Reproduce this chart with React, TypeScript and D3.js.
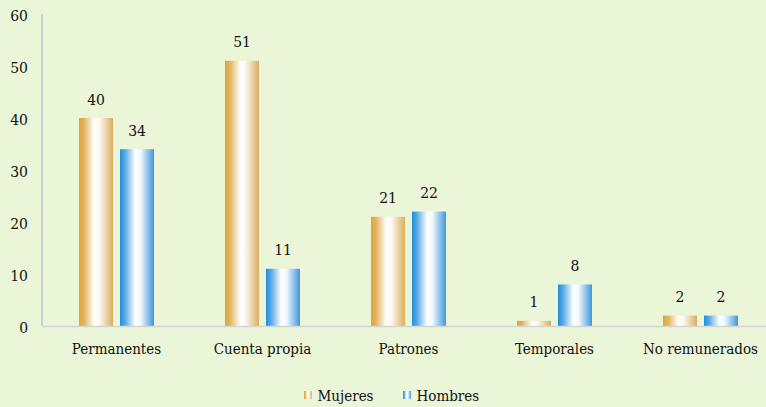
import React from "react";
import * as d3 from "d3";

const categories = ["Permanentes", "Cuenta propia", "Patrones", "Temporales", "No remunerados"];
const mujeres = [40, 51, 21, 1, 2];
const hombres = [34, 11, 22, 8, 2];
const yTicks = [0, 10, 20, 30, 40, 50, 60];
const seriesNames = ["Mujeres", "Hombres"];

const W = 766;
const H = 407;
const FONT = "'DejaVu Serif Condensed', 'DejaVu Serif'";

export default function App() {
  const y = d3.scaleLinear().domain([0, 60]).range([326, 14]);
  const x = d3.scaleBand().domain(categories).range([43.5, 773.5]).paddingInner(0).paddingOuter(0);
  const barW = 34;
  const gap = 7;
  const series = [
    { name: seriesNames[0], values: mujeres, grad: "gMuj" },
    { name: seriesNames[1], values: hombres, grad: "gHom" },
  ];
  const txt = { fontFamily: FONT, fontSize: 15, fontStretch: "condensed" as const };
  const num = { fontFamily: FONT, fontSize: 15.5, fontStretch: "condensed" as const };
  return (
    <svg width={W} height={H} style={{ position: "absolute", left: 0, top: 0, display: "block" }}>
      <defs>
        <linearGradient id="gMuj" x1="0" x2="1" y1="0" y2="0">
          <stop offset="0" stopColor="#DDA734" />
          <stop offset="0.15" stopColor="#E2B460" />
          <stop offset="0.45" stopColor="#FFFFFF" />
          <stop offset="0.6" stopColor="#FDF8F0" />
          <stop offset="1" stopColor="#D9AE60" />
        </linearGradient>
        <linearGradient id="gHom" x1="0" x2="1" y1="0" y2="0">
          <stop offset="0" stopColor="#1E8FDB" />
          <stop offset="0.15" stopColor="#5AAAE4" />
          <stop offset="0.45" stopColor="#FFFFFF" />
          <stop offset="0.6" stopColor="#F4F9FD" />
          <stop offset="1" stopColor="#3D97DE" />
        </linearGradient>
      </defs>
      <rect x={0} y={0} width={W} height={H} fill="#EBF5D8" />
      <line x1={42} x2={42} y1={y(60)} y2={y(0)} stroke="#B9BDC6" strokeWidth={1.3} />
      {yTicks.map((t) => (
        <text key={t} x={28} y={y(t) + 7} textAnchor="end" style={num} fill="#111">
          {t}
        </text>
      ))}
      {categories.map((c, i) => {
        const cx = (x(c) as number) + x.bandwidth() / 2;
        return (
          <g key={c}>
            {series.map((s, j) => {
              const bx = j === 0 ? cx - gap / 2 - barW : cx + gap / 2;
              const v = s.values[i];
              return (
                <g key={s.name}>
                  <rect x={bx} y={y(v)} width={barW} height={y(0) - y(v)} fill={`url(#${s.grad})`} />
                  <text x={bx + barW / 2} y={y(v) - 13.5} textAnchor="middle" style={num} fill="#111">
                    {v}
                  </text>
                </g>
              );
            })}
            <text x={cx} y={354} textAnchor="middle" style={txt} fill="#111">
              {c}
            </text>
          </g>
        );
      })}
      <line x1={42} x2={W} y1={y(0) + 0.5} y2={y(0) + 0.5} stroke="#D4D6D4" strokeWidth={1.5} />
      {series.map((s, j) => {
        const lx = j === 0 ? 304 : 403;
        return (
          <g key={s.name}>
            <rect x={lx} y={391} width={8} height={8} fill={`url(#${s.grad})`} />
            <text x={lx + 13.5} y={401} style={txt} fill="#111">
              {s.name}
            </text>
          </g>
        );
      })}
    </svg>
  );
}
